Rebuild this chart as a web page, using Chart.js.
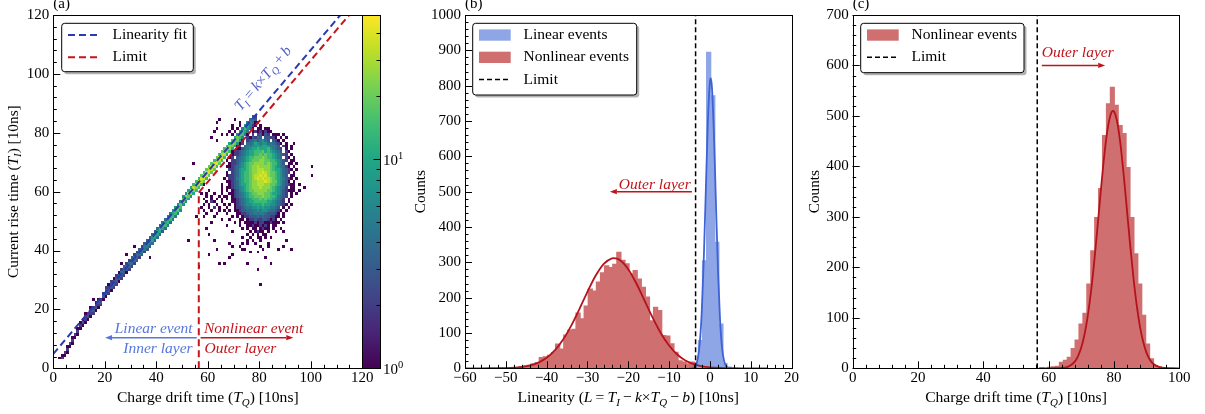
<!DOCTYPE html>
<html>
<head>
<meta charset="utf-8">
<script src="https://cdn.jsdelivr.net/npm/chart.js@4.4.1/dist/chart.umd.min.js"></script>
<style>
html,body{margin:0;padding:0;background:#ffffff;}
#wrap{position:relative;width:1205px;height:414px;overflow:hidden;background:#fff;}
#wrap canvas{position:absolute;top:0;}
</style>
</head>
<body>
<div id="wrap">
<canvas id="chartA" width="412" height="414" style="left:0px"></canvas>
<canvas id="chartB" width="400" height="414" style="left:400px"></canvas>
<canvas id="chartC" width="405" height="414" style="left:800px"></canvas>
</div>
<script>
// ================= DATA =================
// ---- Panel (a): 2D histogram (T_Q, T_I), 1-unit cells
const levelCounts = {'1':1,'2':2,'3':3,'4':4,'5':5,'6':7,'7':10,'8':14,'9':19,'A':25,'B':32,'C':40};
const cbMax = 49;
const cbMajor = [1, 10];
const cbMinor = [2, 3, 4, 5, 6, 7, 8, 9, 20, 30, 40];

// linear band: column x = bandX0 + i, cells from bandY0[i] upward
const bandX0 = 2;
const bandY0 = [3,3,4,5,7,8,10,11,13,14,15,16,17,18,19,20,21,23,24,25,26,27,28,29,30,31,32,33,34,35,36,37,38,39,40,41,42,43,44,45,46,47,48,49,50,51,52,53,55,56,57,58,59,60,61,62,63,64,65,66,67,68,69,70,71,72,73,74,75,76,77,78,79,80,81,82,83];
const bandCounts = ["1","21","12","121","12","121","12","121","121","131","1221","132","1231","232","1321","1231","232","132","1332","2321","1332","2331","2332","1341","2342","2343","1342","2442","2443","2452","3442","2453","3552","2553","3563","3563","4764","3773","4774","4784","3785","4874","5875","4885","5876","5886","5986","6895","6996","69A6","79A7","6AA7","7AB8","8AB8","8BC8","8BC9","9CB8","8CC9","9CB9","9BC9","9CC8","8CB9","9BC8","8BB9","8BA8","7AB8","8AA7","79A8","7997","6996","6896","5885","5786","4675","3564","2453","132"];

// nonlinear blob: rows from y = blobYTop downward, columns from x = blobX0
const blobX0 = 57;
const blobYTop = 84;
const blobRows = [
".......1..|...1......|..........|..........|....", // 84
"......1...|.....1....|..1.......|..........|....", // 83
"..........|..1..1.1..|.1.1......|..........|....", // 82
"......1...|..1.1....1|1.11.11...|..........|....", // 81
".....1....|.1.1....1.|12121211..|..........|....", // 80
"........1.|1.1...1.1.|2.23132.11|1.1.......|....", // 79
"....1.....|...1..1.21|3243.33221|.1.1......|....", // 78
"......1...|....1.1.23|4535643.32|1.1.......|....", // 77
"..........|...1.12.44|5765664543|21.1..1...|....", // 76
"..........|..1.12.455|6676776554|3.21.1....|....", // 75
"..........|..1.113456|7787778654|32.1.1....|....", // 74
"..........|1.12234567|7888978765|43.21.....|....", // 73
"..........|..12234567|7889898876|5432.1....|....", // 72
"..........|.12.345678|8999A98876|54.21.1...|....", // 71
"..........|1.22345678|999AA99887|6532.11...|....", // 70
"..........|.122356789|9AAAA9A988|653.11.1..|....", // 69
"..........|1123456789|AABAAAA987|65421.1...|...1", // 68
"..........|.223467789|AABBBAA987|764321.1..|....", // 67
"..........|1.23467889|AABBCBA998|76432.1...|....", // 66
"..........|1223467889|ABBCBCA998|7643.11...|...1", // 65
".........1|.223567889|ABCBCBBA98|765321.1..|....", // 64
"..........|1123467889|AABBBCBA99|76431.1...|....", // 63
".1......1.|.123467789|AABBBAA998|7643211.1.|....", // 62
"........1.|1123456789|AAABAAA987|6542.11...|1...", // 61
"...1....1.|1.12356789|9AAAAA9987|6532111.1.|....", // 60
"1.1..1..1.|.112345678|99AAA99877|6532.1.1..|....", // 59
"..1.1..1.1|1.12345678|8999A99887|5432.1....|....", // 58
".1..1.1.1.|1.11234567|8889898876|542.1.....|....", // 57
"..1.21..1.|..11234567|7888887765|432.1.....|....", // 56
".1.1..1..1|.1.1234566|7777877665|4321.1....|....", // 55
"1..1.2.1..|1..1223455|6676766554|3.1.1.....|....", // 54
".1..1..1.1|.1.1123344|5565665443|21.1......|....", // 53
"..1...1...|1...112234|4545543332|1.1.......|....", // 52
".1...1....|..1.1.1223|3343433221|1.1.......|....", // 51
"........1.|.1...11.12|2322332121|.1........|....", // 50
"....1.....|...1.1.111|1212211211|1.1.......|....", // 49
"..........|1....1..11|2112121.11|..........|....", // 48
"..1.......|......1.1.|11.1211.1.|.1........|....", // 47
"..........|..1......1|.1211.1..1|..1.......|....", // 46
"...1......|........1.|1.1.11....|..........|....", // 45
"..........|......1..1|..11.1.1..|..........|....", // 44
".....1....|........1.|1..1......|...1......|....", // 43
"..........|.1....1.1.|.1....1...|..........|....", // 42
"..........|..1..1....|...1..1...|..1.......|....", // 41
"......1...|......11..|....1.....|1....1....|....", // 40
"..........|.........1|..1.......|..........|....", // 39
"...1......|..1.......|..........|..........|....", // 38
"..........|.1........|.....1....|..........|....", // 37
"..........|..........|..........|..........|....", // 36
".......1.1|........1.|.......1..|..........|....", // 35
"..........|..........|..........|..........|....", // 34
"..........|..........|..1.......|..........|....", // 33
"..........|..........|..........|..........|....", // 32
"..........|..........|..........|..........|....", // 31
"..........|..........|..........|..........|....", // 30
"..........|..........|..........|..........|....", // 29
"..........|..........|...1......|..........|...."  // 28
];
const outliers = [[15,23],[26,35],[28,38],[31,41],[37,37],[52,43],[55,51],[54,69],[50,64],[56,34]];

const fitLine = [{x:0, y:4.9}, {x:111.5, y:120}];
const limitLine = [{x:56.5, y:59.7}, {x:114.9, y:120}];
const limitDrop = [{x:56.5, y:0}, {x:56.5, y:59.7}];

// ---- Panel (b): linearity histograms (1-unit bins)
const nonlinCentersB = [-53.3,-52.3,-51.3,-50.3,-49.3,-48.3,-47.3,-46.3,-45.3,-44.3,-43.3,-42.3,-41.3,-40.3,-39.3,-38.3,-37.3,-36.3,-35.3,-34.3,-33.3,-32.3,-31.3,-30.3,-29.3,-28.3,-27.3,-26.3,-25.3,-24.3,-23.3,-22.3,-21.3,-20.3,-19.3,-18.3,-17.3,-16.3,-15.3,-14.3,-13.3,-12.3,-11.3,-10.3,-9.3,-8.3,-7.3,-6.3,-5.3,-4.3,-3.3,-2.3];
const nonlinCountsB = [1,1,2,2,3,3,4,6,8,10,14,18,32,34,38,46,70,56,96,110,112,158,142,178,226,220,246,272,292,287,296,330,307,297,268,278,254,231,203,136,174,165,94,93,71,47,23,19,14,19,17,8];
const linCentersB = [-4.3,-3.3,-2.3,-1.3,-0.3,0.7,1.7,2.7,3.7,4.7];
const linCountsB = [3,15,80,306,896,773,358,127,15,5];
const nonlinFitBx = [-60,-58,-56,-54,-52,-50,-48,-46,-44,-42,-40,-38,-36,-34,-32,-30,-28,-26,-24,-23.5,-22,-20,-18,-16,-14,-12,-10,-8,-6,-4,-2,0,2,4,6,8,10,12,14];
const nonlinFitBy = [0,0.01,0.03,0.1,0.28,0.71,1.7,3.9,8.2,16.1,29.6,50.5,80.6,120.2,167,216.4,261.8,295.6,311.3,312,306,280.6,240.1,191.7,142.9,99.3,64.4,39,22,11.6,5.7,2.6,1.1,0.45,0.17,0.06,0.02,0.005,0.001];
const linFitBx = [-5,-4.5,-4,-3.5,-3,-2.5,-2,-1.5,-1,-0.5,0,0.2,0.5,1,1.5,2,2.5,3,3.5,4,4.5,5];
const linFitBy = [0.08,0.43,2,7.6,24.9,68,157,306,502,695,810,821,796,660,461,272,135,56,20,6,1.5,0.3];
const limitB = -3.5;

// ---- Panel (c): T_Q histogram of nonlinear events (1.2-unit bins)
const centersC = [57.9,59.1,60.3,61.5,62.7,63.9,65.1,66.3,67.5,68.7,69.9,71.1,72.3,73.5,74.7,75.9,77.1,78.3,79.5,80.7,81.9,83.1,84.3,85.5,86.7,87.9,89.1,90.3,91.5,92.7,93.9,95.1,96.3];
const countsC = [2,1,3,4,5,13,17,23,40,57,89,110,168,234,300,357,462,525,558,522,482,466,399,300,228,168,106,49,20,6,4,2,1];
const fitCx = [57,60,62,64,66,68,69,70,71,72,73,74,75,76,77,78,79,79.7,80,81,82,83,84,85,86,87,88,89,90,91,92,94,96,98,100];
const fitCy = [0,0.02,0.12,0.71,3.4,13.3,24.1,41.5,67.8,105,154,214.5,283,354,420,472,503,510,509,487.5,443,381.5,311.5,241,177,123,81,51,30,16.9,9,2.2,0.43,0.07,0.01];
const limitC = 56.5;

// ================= STYLE =================
const FONT = '"Liberation Serif","Times New Roman",Times,serif';
Chart.defaults.font.family = FONT;
Chart.defaults.font.size = 15;
Chart.defaults.color = '#000';
const COL = {
  fit: '#2b3aae', limit: '#c4161c', annBlue: '#5676db', formula: '#5260c8', annRed: '#c0141b',
  redFill: '#cf6f6f', blueFill: '#8fa6e6', redCurve: '#b5121b', blueCurve: '#3d63d6'
};
const VIR = [[68,1,84],[72,36,117],[65,68,135],[53,95,141],[42,120,142],[33,145,140],[34,168,132],[68,191,112],[122,209,81],[189,223,38],[253,231,37]];
function viridis(t) {
  t = Math.max(0, Math.min(1, t));
  const f = t * 10, i = Math.min(9, Math.floor(f)), u = f - i, a = VIR[i], b = VIR[i + 1];
  return 'rgb(' + a.map((v, k) => Math.round(v + (b[k] - v) * u)).join(',') + ')';
}
const minusFmt = v => String(v).replace('-', '\u2212');
const pts = (xs, ys) => xs.map((x, i) => ({x, y: ys[i]}));

// build heat cells
const cells = new Map();
function addCell(x, y, c) { const k = x + ',' + y; cells.set(k, (cells.get(k) || 0) + c); }
blobRows.forEach((row, r) => {
  const s = row.replace(/\|/g, '');
  for (let i = 0; i < s.length; i++) if (s[i] !== '.') addCell(blobX0 + i, blobYTop - r, levelCounts[s[i]]);
});
bandY0.forEach((y0, i) => {
  const s = bandCounts[i];
  for (let j = 0; j < s.length; j++) addCell(bandX0 + i, y0 + j, levelCounts[s[j]]);
});
outliers.forEach(([x, y]) => addCell(x, y, 1));

// ================= HELPERS =================
function drawRich(ctx, segs, x, y, o) {
  const size = o.size || 15, align = o.align || 'left';
  const parts = segs.map(s => {
    const t = s[0], f = s[1] || '';
    const sub = f.includes('s'), sup = f.includes('^'), it = f.includes('i');
    const fs = (sub || sup) ? size * 0.7 : size;
    const font = (it ? 'italic ' : '') + fs + 'px ' + FONT;
    ctx.font = font;
    return {t, font, w: ctx.measureText(t).width, dy: sub ? size * 0.24 : (sup ? -size * 0.4 : 0)};
  });
  const W = parts.reduce((a, p) => a + p.w, 0);
  let cx = align === 'center' ? x - W / 2 : (align === 'right' ? x - W : x);
  ctx.fillStyle = o.color || '#000';
  ctx.textAlign = 'left'; ctx.textBaseline = 'alphabetic';
  for (const p of parts) { ctx.font = p.font; ctx.fillText(p.t, cx, y + p.dy); cx += p.w; }
  return W;
}
function drawRichRot(ctx, segs, x, y, ang, o) {
  ctx.save(); ctx.translate(x, y); ctx.rotate(ang); drawRich(ctx, segs, 0, 0, o); ctx.restore();
}
function arrow(ctx, x0, y0, x1, y1, color) {
  const a = Math.atan2(y1 - y0, x1 - x0), head = 7, hw = 2.6;
  const bx = x1 - head * Math.cos(a), by = y1 - head * Math.sin(a);
  ctx.save(); ctx.strokeStyle = color; ctx.fillStyle = color; ctx.lineWidth = 1.5;
  ctx.beginPath(); ctx.moveTo(x0, y0); ctx.lineTo(bx, by); ctx.stroke();
  ctx.beginPath(); ctx.moveTo(x1, y1);
  ctx.lineTo(bx - hw * Math.sin(a), by + hw * Math.cos(a));
  ctx.lineTo(bx + hw * Math.sin(a), by - hw * Math.cos(a));
  ctx.closePath(); ctx.fill(); ctx.restore();
}
function frameAndTicks(chart, t) {
  const {ctx, chartArea: ca, scales: {x, y}} = chart;
  ctx.save(); ctx.strokeStyle = '#000'; ctx.lineWidth = 1;
  const mk = (scale, step, len, horiz) => {
    const n = Math.round((scale.max - scale.min) / step);
    for (let i = 0; i <= n; i++) {
      const v = scale.min + i * step;
      const p = Math.round(scale.getPixelForValue(v)) + 0.5;
      ctx.beginPath();
      if (horiz) { ctx.moveTo(p, ca.bottom); ctx.lineTo(p, ca.bottom - len); }
      else { ctx.moveTo(ca.left, p); ctx.lineTo(ca.left + len, p); }
      ctx.stroke();
    }
  };
  mk(x, t.xMinor, 3.5, true); mk(x, t.xMajor, 7, true);
  mk(y, t.yMinor, 3.5, false); mk(y, t.yMajor, 7, false);
  ctx.strokeRect(Math.round(ca.left) + 0.5, Math.round(ca.top) + 0.5, Math.round(ca.right) - Math.round(ca.left), Math.round(ca.bottom) - Math.round(ca.top));
  ctx.restore();
}
function legendBox(ctx, ca, spec) {
  const x = ca.left + spec.dx, y = ca.top + spec.dy, w = spec.w, h = spec.h;
  ctx.save();
  ctx.fillStyle = 'rgba(0,0,0,0.3)';
  ctx.beginPath(); ctx.roundRect(x + 2.5, y + 2.5, w, h, 3); ctx.fill();
  ctx.fillStyle = '#fff';
  ctx.beginPath(); ctx.roundRect(x, y, w, h, 3); ctx.fill();
  ctx.strokeStyle = '#000'; ctx.lineWidth = 1; ctx.stroke();
  spec.items.forEach((it, i) => {
    const cy = y + 11.7 + i * 22.3;
    if (it.kind === 'line') {
      ctx.setLineDash(it.dash); ctx.strokeStyle = it.color; ctx.lineWidth = it.width;
      ctx.beginPath(); ctx.moveTo(x + 6.3, cy); ctx.lineTo(x + 38.3, cy); ctx.stroke(); ctx.setLineDash([]);
    } else {
      ctx.fillStyle = it.color; ctx.fillRect(x + 6.3, cy - 5.6, 31.7, 11.3);
    }
    ctx.fillStyle = '#000'; ctx.font = '15.5px ' + FONT; ctx.textBaseline = 'middle'; ctx.textAlign = 'left';
    ctx.fillText(it.label, x + 50.8, cy);
  });
  ctx.restore();
}
const titleTQ = [['Charge drift time ('], ['T', 'i'], ['Q', 'is'], [') [10ns]']];
const titleTI = [['Current rise time ('], ['T', 'i'], ['I', 'is'], [') [10ns]']];
const titleL = [['Linearity ('], ['L', 'i'], ['\u2009=\u2009'], ['T', 'i'], ['I', 'is'], ['\u2009\u2212\u2009'], ['k', 'i'], ['\u00d7'], ['T', 'i'], ['Q', 'is'], ['\u2009\u2212\u2009'], ['b', 'i'], [') [10ns]']];
const formula = [['T', 'i'], ['I', 'is'], ['\u2009=\u2009'], ['k', 'i'], ['\u00d7'], ['T', 'i'], ['Q', 'is'], ['\u2009+\u2009'], ['b', 'i']];

function baseScales(xmin, xmax, xstep, ymin, ymax, ystep, yW) {
  return {
    x: {type: 'linear', min: xmin, max: xmax, offset: false,
        ticks: {stepSize: xstep, padding: 1, autoSkip: false, maxRotation: 0, callback: minusFmt, font: {size: 15}},
        grid: {display: false, drawTicks: false}, border: {display: false},
        afterFit(s) { s.height = 45.7; }},
    y: {type: 'linear', min: ymin, max: ymax,
        ticks: {stepSize: ystep, padding: 4, autoSkip: false, callback: minusFmt, font: {size: 15}},
        grid: {display: false, drawTicks: false}, border: {display: false},
        afterFit(s) { s.width = yW; }}
  };
}
const common = {responsive: false, animation: false, devicePixelRatio: 1,
  plugins: {legend: {display: false}, tooltip: {enabled: false}}};

// ================= PANEL (a) =================
const panelA = {
  id: 'panelA',
  beforeDatasetsDraw(chart) {
    const {ctx, chartArea: ca, scales: {x, y, cb}} = chart;
    ctx.save(); ctx.beginPath(); ctx.rect(ca.left, ca.top, ca.width, ca.height); ctx.clip();
    const span = cb.bottom - cb.top;
    for (const [k, c] of cells) {
      const [cx, cy] = k.split(',').map(Number);
      const t = (cb.bottom - cb.getPixelForValue(Math.min(c, cbMax))) / span;
      ctx.fillStyle = viridis(t);
      const x0 = Math.round(x.getPixelForValue(cx)), x1 = Math.round(x.getPixelForValue(cx + 1));
      const y0 = Math.round(y.getPixelForValue(cy + 1)), y1 = Math.round(y.getPixelForValue(cy));
      ctx.fillRect(x0, y0, x1 - x0, y1 - y0);
    }
    ctx.restore();
  },
  afterDatasetsDraw(chart) {
    const {ctx, scales: {x, y}} = chart;
    const ang = Math.atan2(y.getPixelForValue(fitLine[1].y) - y.getPixelForValue(fitLine[0].y),
                           x.getPixelForValue(fitLine[1].x) - x.getPixelForValue(fitLine[0].x));
    drawRichRot(ctx, formula, x.getPixelForValue(72.8), y.getPixelForValue(87.2), ang, {size: 15, color: COL.formula});
    drawRich(ctx, [['Linear event', 'i']], x.getPixelForValue(54.1), y.getPixelForValue(12.0), {size: 15.5, align: 'right', color: COL.annBlue});
    drawRich(ctx, [['Inner layer', 'i']], x.getPixelForValue(54.1), y.getPixelForValue(5.3), {size: 15.5, align: 'right', color: COL.annBlue});
    arrow(ctx, x.getPixelForValue(55.7), y.getPixelForValue(10.4), x.getPixelForValue(20.1), y.getPixelForValue(10.4), COL.annBlue);
    drawRich(ctx, [['Nonlinear event', 'i']], x.getPixelForValue(58.5), y.getPixelForValue(12.0), {size: 15.5, color: COL.annRed});
    drawRich(ctx, [['Outer layer', 'i']], x.getPixelForValue(58.7), y.getPixelForValue(5.3), {size: 15.5, color: COL.annRed});
    arrow(ctx, x.getPixelForValue(57.2), y.getPixelForValue(10.4), x.getPixelForValue(93.2), y.getPixelForValue(10.4), COL.annRed);
  },
  afterDraw(chart) {
    const {ctx, chartArea: ca, scales: {cb}} = chart;
    frameAndTicks(chart, {xMajor: 20, xMinor: 5, yMajor: 20, yMinor: 4});
    // colorbar
    const x0 = Math.round(ca.right), x1 = 380;
    const g = ctx.createLinearGradient(0, cb.bottom, 0, cb.top);
    for (let i = 0; i <= 10; i++) g.addColorStop(i / 10, viridis(i / 10));
    ctx.save();
    ctx.fillStyle = g; ctx.fillRect(x0, cb.top, x1 - x0, cb.bottom - cb.top);
    ctx.strokeStyle = '#000'; ctx.lineWidth = 1;
    ctx.strokeRect(x0 + 0.5, Math.round(cb.top) + 0.5, x1 - x0, Math.round(cb.bottom) - Math.round(cb.top));
    cbMinor.forEach(v => { const p = Math.round(cb.getPixelForValue(v)) + 0.5; ctx.beginPath(); ctx.moveTo(x1, p); ctx.lineTo(x1 - 3.5, p); ctx.stroke(); });
    cbMajor.forEach(v => {
      const p = Math.round(cb.getPixelForValue(v)) + 0.5; ctx.beginPath(); ctx.moveTo(x1, p); ctx.lineTo(x1 - 6.5, p); ctx.stroke();
      drawRich(ctx, [['10'], [String(Math.round(Math.log10(v))), '^']], x1 + 3, p + 5, {size: 15});
    });
    ctx.restore();
    legendBox(ctx, ca, {dx: 8.4, dy: 8.3, w: 131.6, h: 48.4, items: [
      {kind: 'line', color: COL.fit, dash: [7, 4], width: 2, label: 'Linearity fit'},
      {kind: 'line', color: COL.limit, dash: [7, 4], width: 2, label: 'Limit'}]});
    drawRich(ctx, titleTQ, (ca.left + ca.right) / 2, 402, {size: 15.6, align: 'center'});
    drawRichRot(ctx, titleTI, 17.5, (ca.top + ca.bottom) / 2, -Math.PI / 2, {size: 15.3, align: 'center'});
    drawRich(ctx, [['(a)']], ca.left, 8, {size: 15});
  }
};
const scalesA = baseScales(0, 120, 20, 0, 120, 20, 53.3);
scalesA.cb = {type: 'logarithmic', axis: 'y', position: 'right', min: 1, max: cbMax,
  ticks: {display: false}, grid: {display: false, drawTicks: false}, border: {display: false},
  afterFit(s) { s.width = 412 - 362.3; }};
new Chart(document.getElementById('chartA'), {
  type: 'scatter',
  data: {datasets: [
    {label: 'Linearity fit', data: fitLine, showLine: true, borderColor: COL.fit, borderWidth: 2, borderDash: [7, 4], pointRadius: 0},
    {label: 'Limit', data: limitLine, showLine: true, borderColor: COL.limit, borderWidth: 2, borderDash: [7, 4], pointRadius: 0},
    {label: 'Limit ', data: limitDrop, showLine: true, borderColor: COL.limit, borderWidth: 2, borderDash: [7, 4], pointRadius: 0}
  ]},
  options: Object.assign({}, common, {layout: {padding: {left: 0, right: 0, top: 15, bottom: 0}}, scales: scalesA}),
  plugins: [panelA]
});

// ================= PANEL (b) =================
const panelB = {
  id: 'panelB',
  afterDatasetsDraw(chart) {
    const {ctx, scales: {x, y}} = chart;
    drawRich(ctx, [['Outer layer', 'i']], x.getPixelForValue(-4.7), y.getPixelForValue(508), {size: 15.5, align: 'right', color: COL.annRed});
    arrow(ctx, x.getPixelForValue(-4.4), y.getPixelForValue(500), x.getPixelForValue(-24.5), y.getPixelForValue(500), COL.annRed);
  },
  afterDraw(chart) {
    const {ctx, chartArea: ca} = chart;
    frameAndTicks(chart, {xMajor: 10, xMinor: 2, yMajor: 100, yMinor: 20});
    legendBox(ctx, ca, {dx: 7.7, dy: 8.3, w: 164, h: 71.7, items: [
      {kind: 'patch', color: COL.blueFill, label: 'Linear events'},
      {kind: 'patch', color: COL.redFill, label: 'Nonlinear events'},
      {kind: 'line', color: '#000', dash: [5, 3], width: 1.5, label: 'Limit'}]});
    drawRich(ctx, titleL, (ca.left + ca.right) / 2, 402, {size: 15.6, align: 'center'});
    drawRichRot(ctx, [['Counts']], 25, (ca.top + ca.bottom) / 2, -Math.PI / 2, {size: 15.3, align: 'center'});
    drawRich(ctx, [['(b)']], ca.left, 8, {size: 15});
  }
};
const barOpts = {grouped: false, barPercentage: 1.3, categoryPercentage: 1, borderWidth: 0};
new Chart(document.getElementById('chartB'), {
  type: 'bar',
  data: {datasets: [
    Object.assign({type: 'bar', label: 'Linear events', data: pts(linCentersB, linCountsB), backgroundColor: COL.blueFill, order: 2}, barOpts),
    Object.assign({type: 'bar', label: 'Nonlinear events', data: pts(nonlinCentersB, nonlinCountsB), backgroundColor: COL.redFill, order: 3}, barOpts),
    {type: 'line', label: 'Linear fit', data: pts(linFitBx, linFitBy), borderColor: COL.blueCurve, borderWidth: 1.8, pointRadius: 0, cubicInterpolationMode: 'monotone', order: 1},
    {type: 'line', label: 'Nonlinear fit', data: pts(nonlinFitBx, nonlinFitBy), borderColor: COL.redCurve, borderWidth: 1.8, pointRadius: 0, cubicInterpolationMode: 'monotone', order: 1},
    {type: 'line', label: 'Limit', data: [{x: limitB, y: 0}, {x: limitB, y: 1000}], borderColor: '#000', borderWidth: 1.5, borderDash: [5, 3], pointRadius: 0, order: 0}
  ]},
  options: Object.assign({}, common, {layout: {padding: {left: 0, right: 8.3, top: 15, bottom: 0}},
    scales: baseScales(-60, 20, 10, 0, 1000, 100, 65)}),
  plugins: [panelB]
});

// ================= PANEL (c) =================
const panelC = {
  id: 'panelC',
  afterDatasetsDraw(chart) {
    const {ctx, scales: {x, y}} = chart;
    drawRich(ctx, [['Outer layer', 'i']], x.getPixelForValue(57.9), y.getPixelForValue(617), {size: 15.5, color: COL.annRed});
    arrow(ctx, x.getPixelForValue(57.9), y.getPixelForValue(600), x.getPixelForValue(77.3), y.getPixelForValue(600), COL.annRed);
  },
  afterDraw(chart) {
    const {ctx, chartArea: ca} = chart;
    frameAndTicks(chart, {xMajor: 20, xMinor: 4, yMajor: 100, yMinor: 20});
    legendBox(ctx, ca, {dx: 8, dy: 8.3, w: 163.3, h: 49.4, items: [
      {kind: 'patch', color: COL.redFill, label: 'Nonlinear events'},
      {kind: 'line', color: '#000', dash: [5, 3], width: 1.5, label: 'Limit'}]});
    drawRich(ctx, titleTQ, (ca.left + ca.right) / 2, 402, {size: 15.6, align: 'center'});
    drawRichRot(ctx, [['Counts']], 19.3, (ca.top + ca.bottom) / 2, -Math.PI / 2, {size: 15.3, align: 'center'});
    drawRich(ctx, [['(c)']], ca.left, 8, {size: 15});
  }
};
new Chart(document.getElementById('chartC'), {
  type: 'bar',
  data: {datasets: [
    Object.assign({type: 'bar', label: 'Nonlinear events', data: pts(centersC, countsC), backgroundColor: COL.redFill, order: 2}, barOpts),
    {type: 'line', label: 'Nonlinear fit', data: pts(fitCx, fitCy), borderColor: COL.redCurve, borderWidth: 1.8, pointRadius: 0, cubicInterpolationMode: 'monotone', order: 1},
    {type: 'line', label: 'Limit', data: [{x: limitC, y: 0}, {x: limitC, y: 700}], borderColor: '#000', borderWidth: 1.5, borderDash: [5, 3], pointRadius: 0, order: 0}
  ]},
  options: Object.assign({}, common, {layout: {padding: {left: 0, right: 25.7, top: 15, bottom: 0}},
    scales: baseScales(0, 100, 20, 0, 700, 100, 52.7)}),
  plugins: [panelC]
});
</script>
</body>
</html>
